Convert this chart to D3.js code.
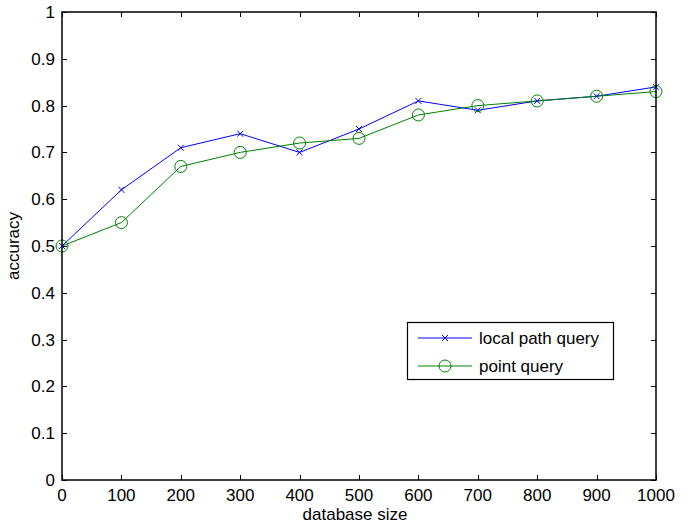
<!DOCTYPE html>
<html>
<head>
<meta charset="utf-8">
<script src="https://cdn.jsdelivr.net/npm/d3@7"></script>
<style>
  body { margin: 0; background: #fff; }
  svg text { font-family: "Liberation Sans", Arial, sans-serif; }
</style>
</head>
<body>
<svg id="chart"></svg>
<script>
var sizes = [0, 100, 200, 300, 400, 500, 600, 700, 800, 900, 1000];
var localPath = [0.50, 0.62, 0.71, 0.74, 0.70, 0.75, 0.81, 0.79, 0.81, 0.82, 0.84];
var pointQuery = [0.50, 0.55, 0.67, 0.70, 0.72, 0.73, 0.78, 0.80, 0.81, 0.82, 0.83];
var yTicks = [0, 0.1, 0.2, 0.3, 0.4, 0.5, 0.6, 0.7, 0.8, 0.9, 1];
var seriesNames = ["local path query", "point query"];

var width = 692, height = 524;
var box = { left: 62, right: 656, top: 12, bottom: 480 };
var fs = 17;

var svg = d3.select("#chart")
  .attr("width", width)
  .attr("height", height);

var xscale = d3.scaleLinear().domain([0, 1000]).range([box.left, box.right]);
var yscale = d3.scaleLinear().domain([0, 1]).range([box.bottom, box.top]);

// ticks (inward, on all four sides)
var tl = 5;
var g = svg.append("g").attr("stroke", "#000").attr("stroke-width", 1);
sizes.forEach(function(v) {
  var x = Math.round(xscale(v)) + 0.5;
  g.append("line").attr("x1", x).attr("x2", x).attr("y1", box.bottom).attr("y2", box.bottom - tl);
  g.append("line").attr("x1", x).attr("x2", x).attr("y1", box.top).attr("y2", box.top + tl);
});
yTicks.forEach(function(v) {
  var y = Math.round(yscale(v)) + 0.5;
  g.append("line").attr("x1", box.left).attr("x2", box.left + tl).attr("y1", y).attr("y2", y);
  g.append("line").attr("x1", box.right).attr("x2", box.right - tl).attr("y1", y).attr("y2", y);
});

// tick labels
svg.append("g").selectAll("text")
  .data(sizes).enter().append("text")
  .attr("x", function(d) { return xscale(d); })
  .attr("y", box.bottom + 20.5)
  .attr("text-anchor", "middle")
  .attr("font-size", fs)
  .text(function(d) { return d; });

svg.append("g").selectAll("text")
  .data(yTicks).enter().append("text")
  .attr("x", box.left - 7)
  .attr("y", function(d) { return yscale(d) + 6; })
  .attr("text-anchor", "end")
  .attr("font-size", fs)
  .text(function(d) { return d; });

// axis labels
svg.append("text")
  .attr("x", (box.left + box.right) / 2 - 4)
  .attr("y", 520)
  .attr("text-anchor", "middle")
  .attr("font-size", fs)
  .text("database size");

svg.append("text")
  .attr("transform", "translate(19," + ((box.top + box.bottom) / 2) + ") rotate(-90)")
  .attr("text-anchor", "middle")
  .attr("font-size", fs)
  .text("accuracy");

// lines
var line = d3.line()
  .x(function(d, i) { return xscale(sizes[i]); })
  .y(function(d) { return yscale(d); });

svg.append("path").datum(localPath)
  .attr("d", line).attr("fill", "none").attr("stroke", "#0000ff").attr("stroke-width", 1);
svg.append("path").datum(pointQuery)
  .attr("d", line).attr("fill", "none").attr("stroke", "#008000").attr("stroke-width", 1);

function cross(sel, x, y, r) {
  sel.append("path")
    .attr("d", "M" + (x - r) + "," + (y - r) + "L" + (x + r) + "," + (y + r) +
               "M" + (x - r) + "," + (y + r) + "L" + (x + r) + "," + (y - r))
    .attr("stroke", "#0000ff").attr("stroke-width", 1).attr("fill", "none");
}

var marks = svg.append("g");
localPath.forEach(function(d, i) { cross(marks, xscale(sizes[i]), yscale(d), 3); });
marks.selectAll("circle")
  .data(pointQuery).enter().append("circle")
  .attr("cx", function(d, i) { return xscale(sizes[i]); })
  .attr("cy", function(d) { return yscale(d); })
  .attr("r", 6)
  .attr("fill", "none").attr("stroke", "#008000").attr("stroke-width", 1);

// box
svg.append("rect")
  .attr("x", box.left).attr("y", box.top)
  .attr("width", box.right - box.left).attr("height", box.bottom - box.top)
  .attr("fill", "none").attr("stroke", "#000").attr("stroke-width", 1.5);

// legend
var leg = svg.append("g");
leg.append("rect")
  .attr("x", 407.5).attr("y", 322.5).attr("width", 206).attr("height", 57)
  .attr("fill", "#fff").attr("stroke", "#000").attr("stroke-width", 1.2);
var rows = [338, 366];
leg.append("line").attr("x1", 418).attr("x2", 472).attr("y1", rows[0]).attr("y2", rows[0])
  .attr("stroke", "#0000ff");
cross(leg, 445, rows[0], 3);
leg.append("line").attr("x1", 418).attr("x2", 472).attr("y1", rows[1]).attr("y2", rows[1])
  .attr("stroke", "#008000");
leg.append("circle").attr("cx", 445).attr("cy", rows[1]).attr("r", 6)
  .attr("fill", "none").attr("stroke", "#008000");
seriesNames.forEach(function(n, i) {
  leg.append("text").attr("x", 479).attr("y", rows[i] + 6)
    .attr("font-size", fs).text(n);
});
</script>
</body>
</html>
